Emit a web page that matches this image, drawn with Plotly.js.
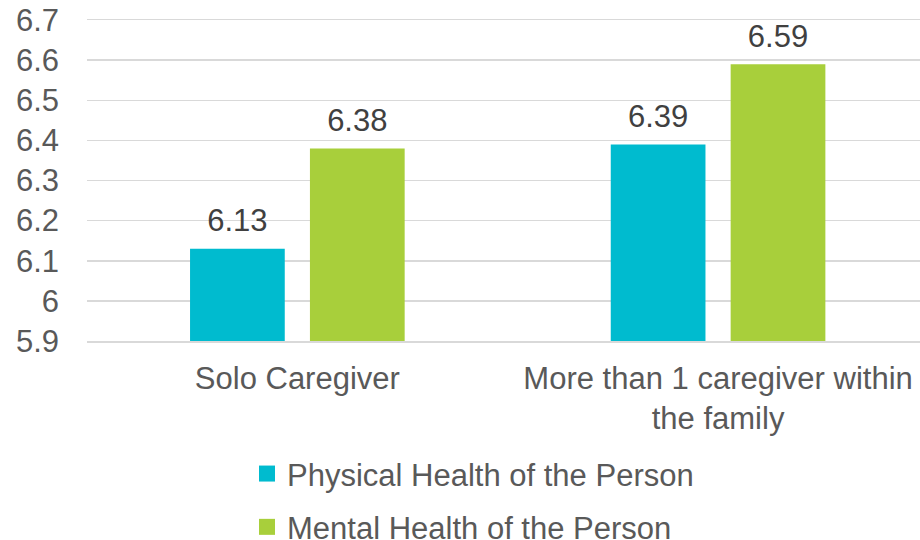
<!DOCTYPE html>
<html>
<head>
<meta charset="utf-8">
<script src="https://cdn.plot.ly/plotly-3.0.1.min.js"></script>
<style>
  html, body { margin: 0; padding: 0; background: #ffffff; }
  #chart { width: 920px; height: 540px; }
</style>
</head>
<body>
<div id="chart"></div>
<script>
// Caregiver arrangement categories
const categories = ['Solo Caregiver', 'More than 1 caregiver within<br>the family'];

// Mean scores per series
const physicalLabel = 'Physical Health of the Person';
const physicalValues = [6.13, 6.39];
const mentalLabel = 'Mental Health of the Person';
const mentalValues = [6.38, 6.59];

// Y axis ticks
const yTicks = [5.9, 6.0, 6.1, 6.2, 6.3, 6.4, 6.5, 6.6, 6.7];
const yTickText = ['5.9', '6', '6.1', '6.2', '6.3', '6.4', '6.5', '6.6', '6.7'];

const CYAN = '#00BBCF';
const GREEN = '#A8CF3B';
const GRID = '#d9d9d9';
const FONT = '"Liberation Sans", Arial, sans-serif';

function barTrace(name, values, color, group) {
  return {
    type: 'bar',
    name: name,
    x: categories,
    y: values,
    offsetgroup: group,
    showlegend: false,
    marker: { color: color },
    hoverinfo: 'skip'
  };
}

// Value labels: grouped scatter points sit over the matching bar,
// with a hidden marker setting the gap between bar top and text
function labelTrace(values, group) {
  return {
    type: 'scatter',
    mode: 'markers+text',
    x: categories,
    y: values,
    offsetgroup: group,
    showlegend: false,
    marker: { size: 14, opacity: 0 },
    text: values.map(v => v.toFixed(2)),
    textposition: 'top center',
    textfont: { family: FONT, size: 31, color: '#404040' },
    cliponaxis: false,
    hoverinfo: 'skip'
  };
}

// Legend-only entries so the swatches can be drawn as larger squares
function legendTrace(name, color, group) {
  return {
    type: 'scatter',
    mode: 'markers',
    name: name,
    x: [null],
    y: [null],
    offsetgroup: group,
    legendgroup: group,
    marker: { symbol: 'square', size: 16, color: color },
    hoverinfo: 'skip'
  };
}

const data = [
  barTrace(physicalLabel, physicalValues, CYAN, 'p'),
  barTrace(mentalLabel, mentalValues, GREEN, 'm'),
  labelTrace(physicalValues, 'p'),
  labelTrace(mentalValues, 'm'),
  legendTrace(physicalLabel, CYAN, 'p'),
  legendTrace(mentalLabel, GREEN, 'm')
];

const layout = {
  width: 920,
  height: 540,
  margin: { l: 87, r: 0, t: 20, b: 198.5, pad: 0, autoexpand: false },
  paper_bgcolor: '#ffffff',
  plot_bgcolor: '#ffffff',
  font: { family: FONT, size: 31, color: '#595959' },
  barmode: 'group',
  bargap: 0.43,
  bargroupgap: 0.21,
  scattermode: 'group',
  scattergap: 0.43,
  showlegend: true,
  legend: {
    xref: 'container',
    yref: 'container',
    x: 0.2685,
    xanchor: 'left',
    y: 0.1724,
    yanchor: 'top',
    orientation: 'v',
    traceorder: 'grouped',
    tracegroupgap: 10,
    font: { family: FONT, size: 31, color: '#595959' },
    bgcolor: 'rgba(0,0,0,0)',
    itemclick: false,
    itemdoubleclick: false
  },
  xaxis: {
    type: 'category',
    range: [-0.5, 1.48],
    automargin: false,
    tickangle: 0,
    showgrid: false,
    showline: true,
    mirror: true,
    linecolor: GRID,
    linewidth: 1.5,
    zeroline: false,
    ticks: '',
    ticklabelstandoff: 9,
    tickfont: { family: FONT, size: 31, color: '#595959' },
    fixedrange: true
  },
  yaxis: {
    range: [5.9, 6.7],
    automargin: false,
    tickmode: 'array',
    tickvals: yTicks,
    ticktext: yTickText,
    showgrid: true,
    gridcolor: GRID,
    gridwidth: 1.5,
    zeroline: false,
    showline: false,
    ticks: '',
    ticklabelstandoff: 27,
    tickfont: { family: FONT, size: 31, color: '#595959' },
    fixedrange: true
  }
};

Plotly.newPlot('chart', data, layout, { staticPlot: true, displayModeBar: false });
</script>
</body>
</html>
